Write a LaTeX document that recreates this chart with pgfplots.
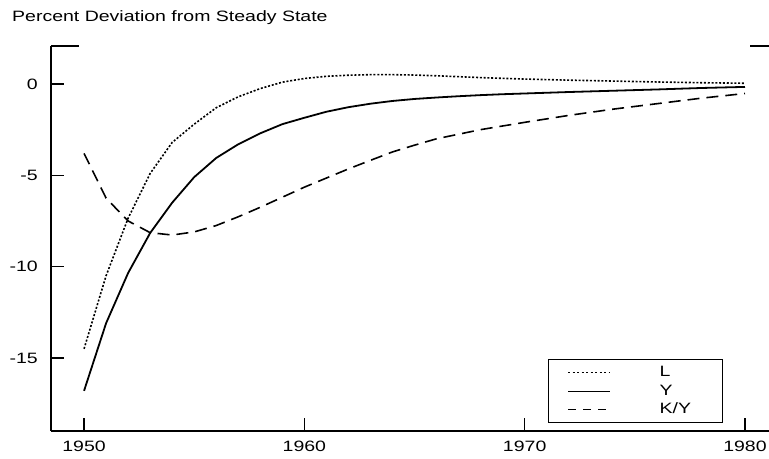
\documentclass[border=0pt]{standalone}
\usepackage{fontspec}
\setmainfont[FakeStretch=1.3]{Liberation Sans}
\usepackage{pgfplots}
\pgfplotsset{compat=1.18}
\newcommand{\lbl}{\fontsize{15bp}{18bp}\selectfont}
\begin{document}
\begin{tikzpicture}
\begin{axis}[
  at={(0,0)}, anchor=south west,
  scale only axis, width=718bp, height=385bp,
  xmin=1948.5, xmax=1981.09, ymin=-19, ymax=2.08,
  axis x line=bottom, axis y line=left,
  axis line style={-, line width=1.3bp, black},
  x axis line style={line width=1.8bp},
  xtick={1950,1960,1970,1980},
  ytick={-15,-10,-5,0},
  tick align=inside,
  major tick length=13bp,
  tick style={line width=1.2bp, black},
  /pgf/number format/assume math mode=true,
  xticklabel={\pgfmathprintnumber[1000 sep={}]{\tick}},
  xticklabel style={font=\lbl, inner sep=0pt, anchor=north, yshift=-10bp},
  yticklabel style={font=\lbl, inner sep=0pt, anchor=east, xshift=-13bp},
  legend style={at={(0.936,0.0208)}, anchor=south east, draw=black, line width=0.8bp,
    inner xsep=19bp, inner ysep=4bp, font=\lbl,
    nodes={inner sep=2bp, text height=11bp, text depth=3bp},
    /tikz/every odd column/.append style={column sep=47bp},
    /tikz/every even column/.append style={text width=42bp},
    row sep=0.5bp},
  legend cell align=left,
  legend image code/.code={\draw[#1] (0bp,0bp) -- (42bp,0bp);},
]
\addlegendimage{black, line width=0.7bp, dash pattern=on 2bp off 2.5bp}
\addlegendentry{L}
\addlegendimage{black, line width=0.9bp}
\addlegendentry{Y}
\addlegendimage{black, line width=0.7bp, dash pattern=on 8bp off 7bp}
\addlegendentry{K/Y}

% L
\addplot[black, line width=1.6bp, dash pattern=on 2bp off 1.8bp, forget plot] coordinates {
(1950,-14.5) (1951,-10.5) (1952,-7.35) (1953,-4.9) (1954,-3.2) (1955,-2.2)
(1956,-1.3) (1957,-0.7) (1958,-0.25) (1959,0.1) (1960,0.3) (1961,0.42)
(1962,0.48) (1963,0.51) (1964,0.51) (1965,0.49) (1966,0.45) (1967,0.40)
(1968,0.35) (1969,0.31) (1970,0.27) (1972,0.21) (1974,0.16) (1976,0.11)
(1978,0.07) (1980,0.04)};
% Y
\addplot[black, line width=1.8bp, forget plot] coordinates {
(1950,-16.8) (1951,-13.1) (1952,-10.35) (1953,-8.16) (1954,-6.5) (1955,-5.1)
(1956,-4.05) (1957,-3.3) (1958,-2.7) (1959,-2.2) (1960,-1.85) (1961,-1.52)
(1962,-1.27) (1963,-1.08) (1964,-0.93) (1965,-0.82) (1966,-0.74) (1967,-0.67)
(1968,-0.61) (1969,-0.56) (1970,-0.52) (1972,-0.44) (1974,-0.37) (1976,-0.3)
(1978,-0.22) (1980,-0.16)};
% K/Y
\addplot[black, line width=1.6bp, dash pattern=on 12bp off 7bp, forget plot] coordinates {
(1950,-3.8) (1951,-6.25) (1952,-7.5) (1953,-8.14) (1954,-8.27) (1955,-8.1)
(1956,-7.75) (1957,-7.27) (1958,-6.75) (1959,-6.2) (1960,-5.65) (1961,-5.15)
(1962,-4.65) (1963,-4.18) (1964,-3.72) (1965,-3.35) (1966,-3.0) (1967,-2.75)
(1968,-2.5) (1969,-2.3) (1970,-2.1) (1972,-1.72) (1974,-1.38) (1976,-1.08)
(1978,-0.78) (1980,-0.52)};
\end{axis}
\draw[line width=1.3bp] (0bp,385bp) -- (28bp,385bp);
\draw[line width=1.3bp] (699bp,385bp) -- (718bp,385bp);
\node[anchor=base west, inner sep=0pt, font=\fontsize{15bp}{18bp}\selectfont] at (-39bp,409bp) {Percent Deviation from Steady State};
\pgfresetboundingbox
\path[use as bounding box] (-51bp,-28bp) rectangle (718bp,431bp);
\end{tikzpicture}
\end{document}
